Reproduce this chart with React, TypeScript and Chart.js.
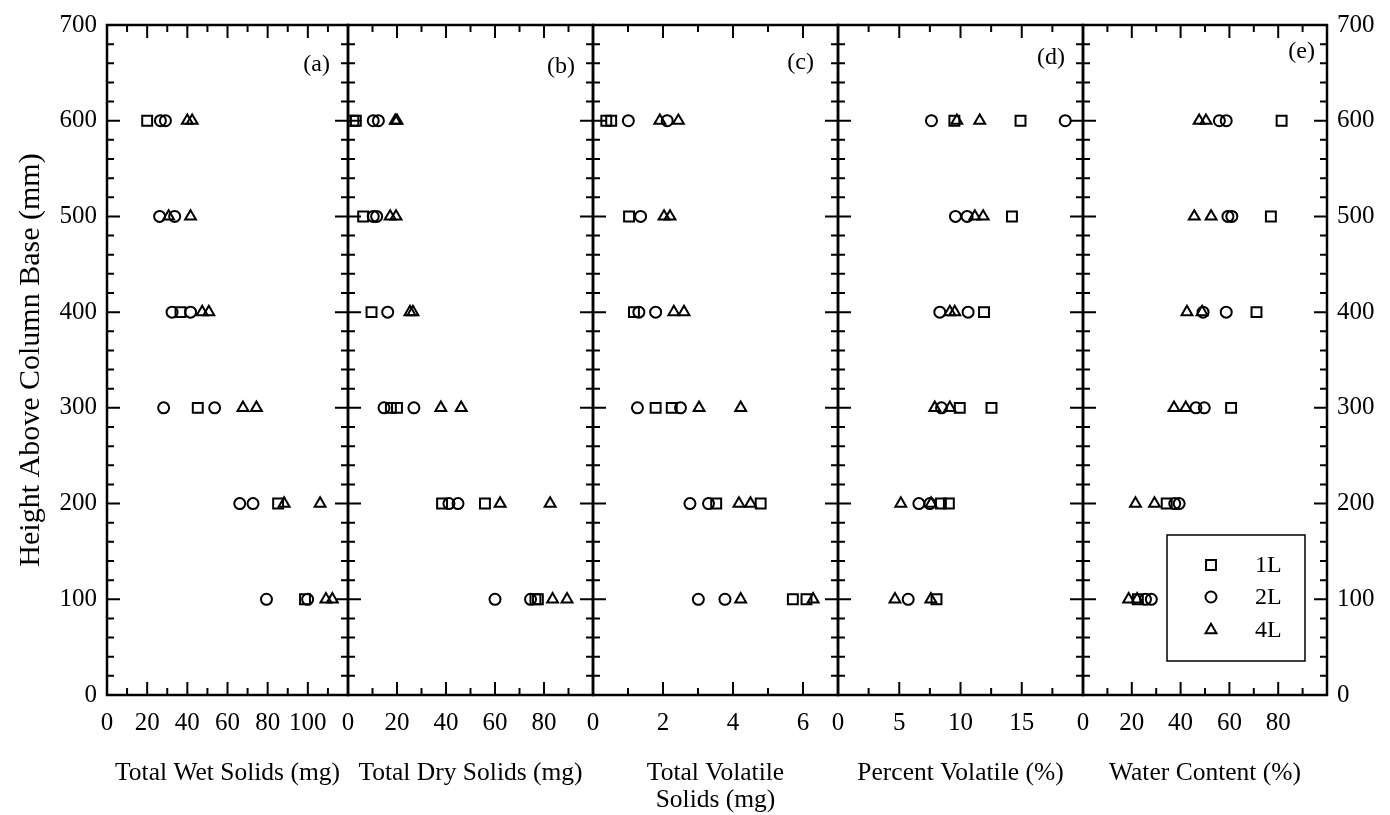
import { useEffect, useRef } from 'react';
import { Chart, registerables } from 'chart.js';

Chart.register(...registerables);

// ---------------- data ----------------
const heights = [100, 200, 300, 400, 500, 600];
const seriesLabels = ['1L', '2L', '4L'];
const panelLetters = ['(a)', '(b)', '(c)', '(d)', '(e)'];
const panelTitles = [
  ['Total Wet Solids (mg)', ''],
  ['Total Dry Solids (mg)', ''],
  ['Total Volatile', 'Solids (mg)'],
  ['Percent Volatile (%)', ''],
  ['Water Content (%)', ''],
];
const panelMax = [120, 100, 7, 20, 100];
const panelMajor = [20, 20, 2, 5, 20];
const panelMinor = [10, 10, 1, 2.5, 10];
const yMax = 700;
const yMajor = 100;
const yMinor = 20;
const letterHeights = [659, 656, 661, 666, 672];

// values at each height (100 ... 600), replicate runs
const wet1L = [[98.6], [85.2], [45.2], [36.6], [], [20.0]];
const wet2L = [[79.4, 99.9], [66.1, 72.7], [28.2, 53.6], [32.4, 41.6], [26.2, 33.7], [26.6, 29.1]];
const wet4L = [[109, 112.2], [88.2, 106.1], [67.7, 74.4], [47.4, 50.7], [30.7, 41.6], [40.0, 42.4]];

const dry1L = [[76.5, 77.5], [38.4, 55.9], [17.5, 20.0], [9.6], [6.2], [2.2, 3.2]];
const dry2L = [[60.0, 74.5], [41.2, 44.9], [14.7, 26.9], [16.2], [10.3, 11.7], [10.3, 12.4]];
const dry4L = [[83.5, 89.4], [62.1, 82.5], [37.9, 46.2], [25.3, 26.5], [17.2, 19.6], [19.3, 20.0]];

const vol1L = [[5.71, 6.1], [3.52, 4.79], [1.79, 2.25], [1.17], [1.03], [0.38, 0.52]];
const vol2L = [[3.01, 3.77], [2.77, 3.3], [1.27, 2.5], [1.31, 1.79], [1.36], [1.01, 2.12]];
const vol4L = [[4.22, 6.29], [4.17, 4.5], [3.03, 4.22], [2.31, 2.6], [2.03, 2.2], [1.91, 2.44]];

const pct1L = [[8.04], [8.4, 9.05], [9.94, 12.53], [11.92], [14.2], [9.5, 14.9]];
const pct2L = [[5.73], [6.6, 7.5], [8.45], [8.31, 10.62], [9.59, 10.54], [7.63, 18.55]];
const pct4L = [[4.65, 7.58], [5.13, 7.6], [7.9, 9.13], [9.13, 9.53], [11.17, 11.85], [9.7, 11.57]];

const wc1L = [[22.5], [34.3], [60.7], [71.1], [77.0], [81.4]];
const wc2L = [[25.6, 28.0], [37.6, 39.4], [46.3, 49.7], [49.2, 58.7], [59.4, 61.0], [55.9, 58.7]];
const wc4L = [[18.7, 22.2], [21.5, 29.3], [37.3, 42.1], [42.6, 48.8], [45.6, 52.5], [47.6, 50.4]];

const panelSeries = [
  [wet1L, wet2L, wet4L],
  [dry1L, dry2L, dry4L],
  [vol1L, vol2L, vol4L],
  [pct1L, pct2L, pct4L],
  [wc1L, wc2L, wc4L],
];
const panelIds = ['xa', 'xb', 'xc', 'xd', 'xe'];
const panelWeights = [241, 245, 245, 245, 244];

// ---------------- styles ----------------
const FONT = '"Liberation Serif", "Times New Roman", serif';
const pointStyles = ['rect', 'circle', 'triangle'];
const pointRadii = [7, 5.5, 6.3];
const MAJOR_LEN = 13;
const MINOR_LEN = 7;

function drawMarker(ctx: CanvasRenderingContext2D, style: string, r: number, x: number, y: number) {
  ctx.beginPath();
  if (style === 'rect') {
    const s = Math.SQRT1_2 * r;
    ctx.rect(x - s, y - s, 2 * s, 2 * s);
  } else if (style === 'circle') {
    ctx.arc(x, y, r, 0, Math.PI * 2);
  } else {
    let rad = 0;
    ctx.moveTo(x + Math.sin(rad) * r, y - Math.cos(rad) * r);
    rad += (2 * Math.PI) / 3;
    ctx.lineTo(x + Math.sin(rad) * r, y - Math.cos(rad) * r);
    rad += (2 * Math.PI) / 3;
    ctx.lineTo(x + Math.sin(rad) * r, y - Math.cos(rad) * r);
    ctx.closePath();
  }
  ctx.stroke();
}

const framePlugin = {
  id: 'panelFrames',
  beforeDatasetsDraw(chart: any) {
    const { ctx, chartArea: ca, scales } = chart;
    const ys = scales.y;
    ctx.save();
    ctx.strokeStyle = '#000';
    panelIds.forEach((id, p) => {
      const xs = scales[id];
      const L = xs.left;
      const R = xs.right;
      ctx.lineWidth = 2;
      ctx.beginPath();
      for (let v = 0; v <= yMax; v += yMinor) {
        const py = ys.getPixelForValue(v);
        const len = v % yMajor === 0 ? MAJOR_LEN : MINOR_LEN;
        ctx.moveTo(L, py);
        ctx.lineTo(L + len, py);
        ctx.moveTo(R, py);
        ctx.lineTo(R - len, py);
      }
      const n = Math.round(panelMax[p] / panelMinor[p]);
      for (let k = 0; k <= n; k++) {
        const v = k * panelMinor[p];
        const px = xs.getPixelForValue(v);
        const q = v / panelMajor[p];
        const len = Math.abs(q - Math.round(q)) < 1e-6 ? MAJOR_LEN : MINOR_LEN;
        ctx.moveTo(px, ca.bottom);
        ctx.lineTo(px, ca.bottom - len);
        ctx.moveTo(px, ca.top);
        ctx.lineTo(px, ca.top + len);
      }
      ctx.stroke();
      ctx.lineWidth = 2.5;
      ctx.strokeRect(L, ca.top, R - L, ca.bottom - ca.top);
    });
    ctx.restore();
  },
  afterDraw(chart: any) {
    const { ctx, chartArea: ca, scales } = chart;
    const ys = scales.y;
    ctx.save();
    ctx.fillStyle = '#000';
    ctx.font = `24px ${FONT}`;
    ctx.textAlign = 'right';
    ctx.textBaseline = 'middle';
    const insets = [18, 18, 24, 18, 12];
    panelIds.forEach((id, p) => {
      const xs = scales[id];
      ctx.fillText(panelLetters[p], xs.right - insets[p], ys.getPixelForValue(letterHeights[p]));
    });
    // legend
    const lx = ca.right - 160;
    const ly = ca.bottom - 160;
    ctx.strokeStyle = '#000';
    ctx.lineWidth = 1.5;
    ctx.strokeRect(lx, ly, 138, 126);
    ctx.textAlign = 'left';
    ctx.lineWidth = 2;
    const rows = [30, 62, 95];
    seriesLabels.forEach((lab, s) => {
      drawMarker(ctx, pointStyles[s], pointRadii[s], lx + 44, ly + rows[s]);
      ctx.fillText(lab, lx + 88, ly + rows[s] + 1);
    });
    ctx.restore();
  },
};

export default function App() {
  const ref = useRef<HTMLCanvasElement>(null);

  useEffect(() => {
    if (!ref.current) return;
    const datasets: any[] = [];
    panelIds.forEach((id, p) => {
      panelSeries[p].forEach((vals, s) => {
        const data = heights.flatMap((h, i) => vals[i].map((v) => ({ x: v, y: h })));
        datasets.push({
          label: seriesLabels[s],
          data,
          xAxisID: id,
          yAxisID: 'y',
          pointStyle: pointStyles[s],
          pointRadius: pointRadii[s],
          pointBorderWidth: 2,
          pointBorderColor: '#000',
          pointBackgroundColor: 'rgba(0,0,0,0)',
          showLine: false,
        });
      });
    });

    const scales: any = {};
    panelIds.forEach((id, p) => {
      scales[id] = {
        type: 'linear',
        position: 'bottom',
        stack: 'panels',
        stackWeight: panelWeights[p],
        min: 0,
        max: panelMax[p],
        grid: { display: false, drawTicks: false },
        border: { display: false },
        ticks: {
          stepSize: panelMajor[p],
          includeBounds: false,
          autoSkip: false,
          maxRotation: 0,
          minRotation: 0,
          padding: 13,
          color: '#000',
          font: { family: FONT, size: 25 },
          callback: (v: number) => (v >= panelMax[p] - 1e-9 ? '' : String(v)),
        },
        title: {
          display: true,
          text: panelTitles[p],
          color: '#000',
          font: { family: FONT, size: 25.5, lineHeight: 1.06 },
          padding: { top: 0, bottom: 1.5 },
        },
        afterFit: (s: any) => {
          s.height = 120;
        },
      };
    });
    scales.y = {
      type: 'linear',
      position: 'left',
      min: 0,
      max: yMax,
      grid: { display: false, drawTicks: false },
      border: { display: false },
      ticks: {
        stepSize: yMajor,
        padding: 10,
        color: '#000',
        font: { family: FONT, size: 25 },
      },
      title: {
        display: true,
        text: 'Height Above Column Base (mm)',
        color: '#000',
        font: { family: FONT, size: 30, lineHeight: 1.2 },
        padding: { top: 13, bottom: 0 },
      },
      afterFit: (s: any) => {
        s.width = 107;
      },
    };
    scales.y2 = {
      type: 'linear',
      position: 'right',
      min: 0,
      max: yMax,
      grid: { display: false, drawTicks: false },
      border: { display: false },
      ticks: {
        stepSize: yMajor,
        padding: 10,
        color: '#000',
        font: { family: FONT, size: 25 },
      },
      afterFit: (s: any) => {
        s.width = 63;
      },
    };

    const chart = new Chart(ref.current, {
      type: 'scatter',
      data: { datasets },
      options: {
        responsive: false,
        animation: false,
        devicePixelRatio: 1,
        layout: { padding: { left: 0, right: 0, top: 22, bottom: 0 } },
        plugins: {
          legend: { display: false },
          tooltip: { enabled: false },
        },
        scales,
      },
      plugins: [framePlugin],
    });
    return () => chart.destroy();
  }, []);

  return (
    <div style={{ position: 'fixed', left: 0, top: 0, width: 1390, height: 815, background: '#fff' }}>
      <canvas ref={ref} width={1390} height={815} style={{ display: 'block' }} />
    </div>
  );
}
